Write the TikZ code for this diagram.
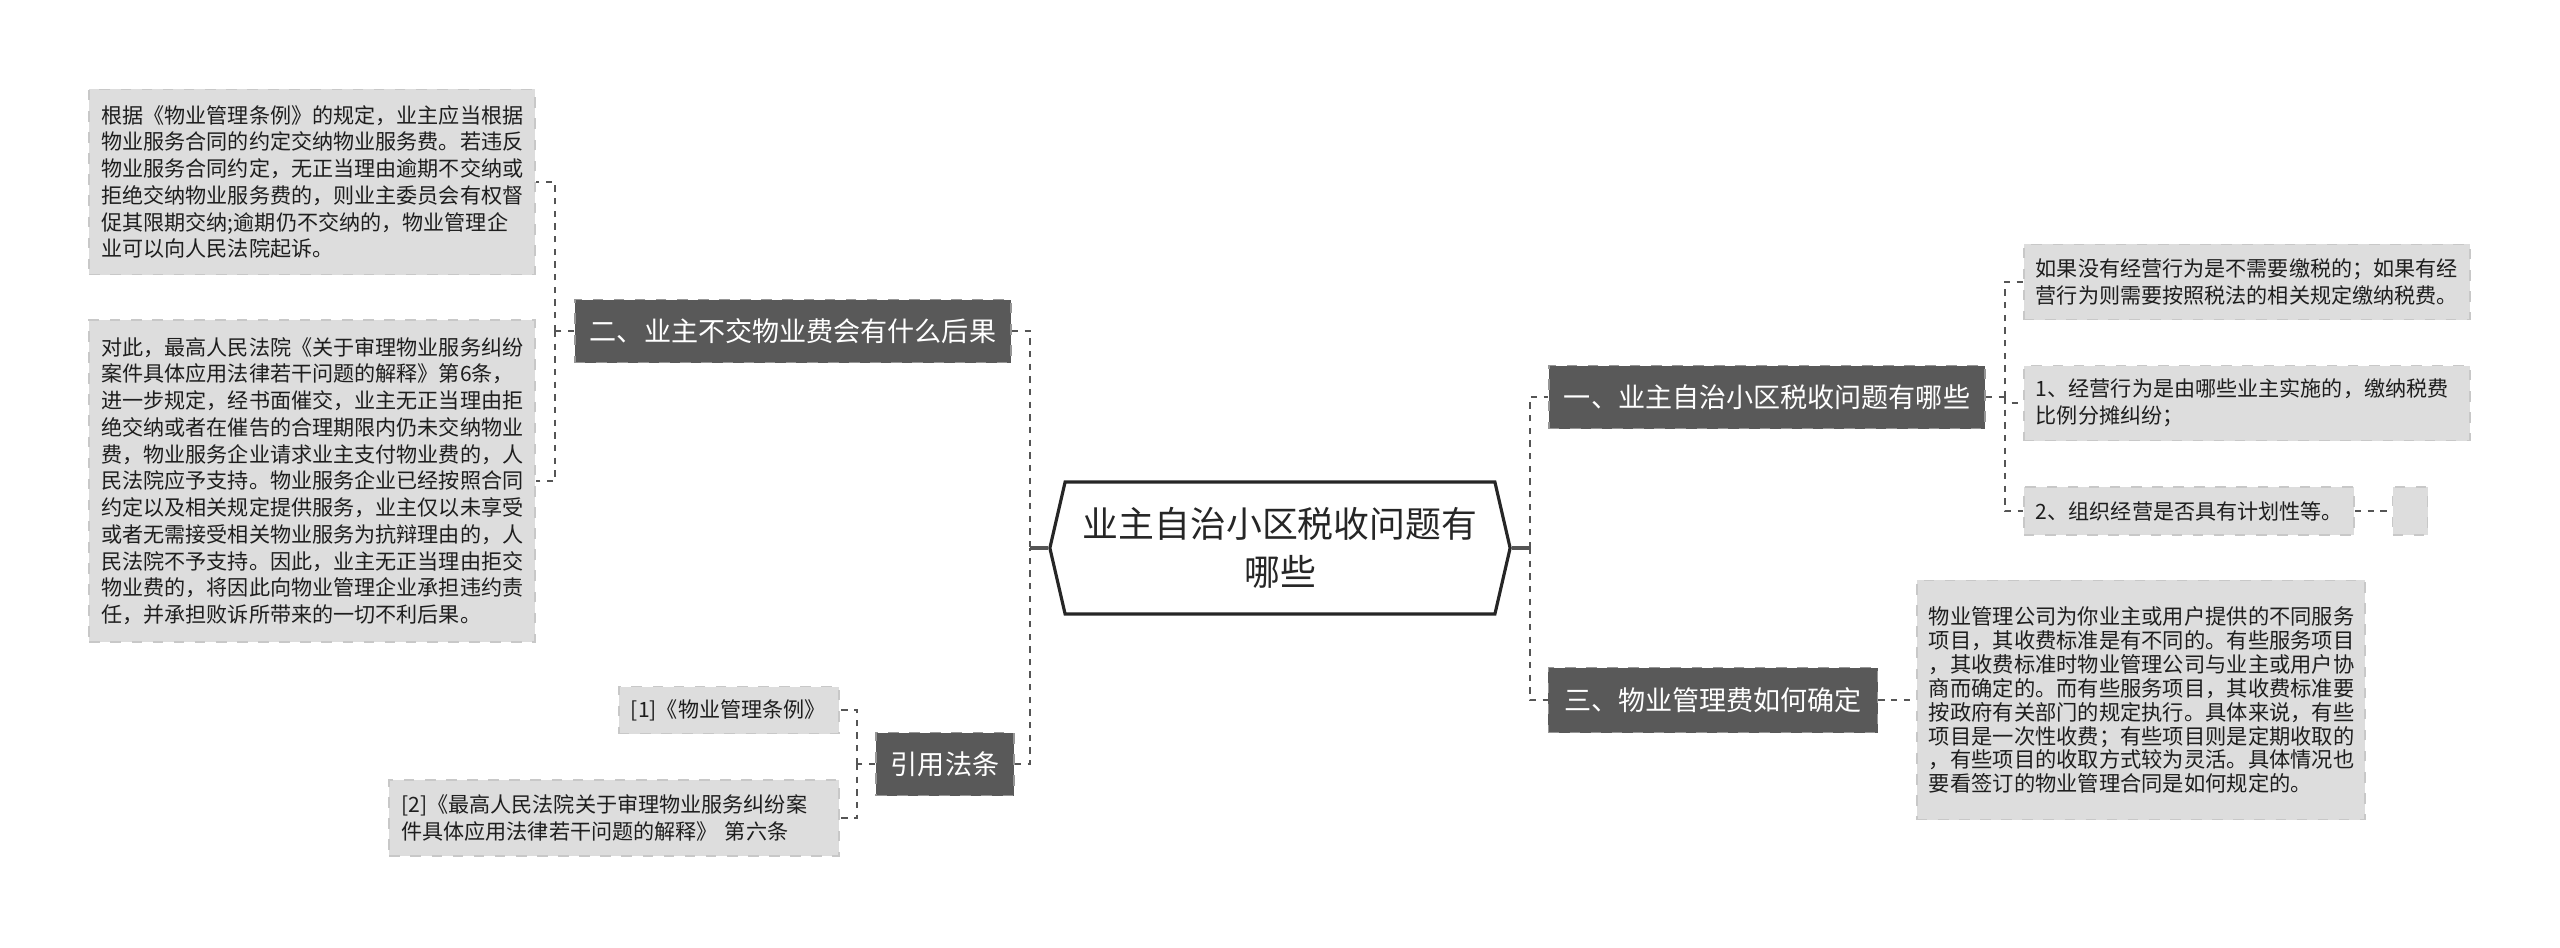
\documentclass[tikz,border=0pt]{standalone}
\usepackage{fontspec}
\setmainfont{Noto Sans CJK SC}
\usepackage{tikz}
\usetikzlibrary{shapes.symbols}
\usepackage{xcolor}
\definecolor{branchgray}{RGB}{89,89,89}
\definecolor{branchedge}{RGB}{150,150,150}
\definecolor{leafgray}{RGB}{221,221,221}
\definecolor{leafedge}{RGB}{200,200,200}
\definecolor{linkgray}{RGB}{85,85,85}
\definecolor{textgray}{RGB}{30,30,30}

\begin{document}
\begin{tikzpicture}[x=0.01cm,y=-0.01cm,
    branch/.style={fill=branchgray,draw=branchedge,dashed,line width=0.5pt,text=white,
      font=\fontsize{7.7}{9}\selectfont,inner sep=0pt,minimum height=0.63cm},
    leaf/.style={fill=leafgray,draw=leafedge,dashed,line width=0.5pt,text=textgray,
      font=\fontsize{6}{7.6}\selectfont,inner xsep=0.12cm,inner ysep=0pt,align=left},
    link/.style={draw=linkgray,line width=0.6pt,dash pattern=on 1.8pt off 1.8pt},
    stem/.style={draw=linkgray,line width=0.9pt}]
  \useasboundingbox (0,0) rectangle (2560,947);

  % centre
  \node[signal,signal to=west and east,signal pointer angle=154,draw=black!85,line width=0.9pt,
    fill=white,minimum width=4.6cm,minimum height=1.32cm,inner sep=0pt,align=center,
    font=\fontsize{10.2}{13.7}\selectfont,text=black!85] (root) at (1280,548)
    {业主自治小区税收问题有\\哪些};

  % branches
  \node[branch,minimum width=4.36cm] (b1) at (1767,397) {一、业主自治小区税收问题有哪些};
  \node[branch,minimum width=4.36cm] (b2) at (793,331) {二、业主不交物业费会有什么后果};
  \node[branch,minimum width=3.29cm,minimum height=0.65cm] (b3) at (1713,700) {三、物业管理费如何确定};
  \node[branch,minimum width=1.38cm] (b4) at (945,764) {引用法条};

  % left leaves
  \node[leaf,text width=4.21cm,minimum height=1.85cm] (l1) at (312,182) {%
    根据《物业管理条例》的规定，业主应当根据\\
    物业服务合同的约定交纳物业服务费。若违反\\
    物业服务合同约定，无正当理由逾期不交纳或\\
    拒绝交纳物业服务费的，则业主委员会有权督\\
    促其限期交纳;逾期仍不交纳的，物业管理企\\
    业可以向人民法院起诉。};
  \node[leaf,text width=4.21cm,minimum height=3.22cm] (l2) at (312,481) {%
    对此，最高人民法院《关于审理物业服务纠纷\\
    案件具体应用法律若干问题的解释》第6条，\\
    进一步规定，经书面催交，业主无正当理由拒\\
    绝交纳或者在催告的合理期限内仍未交纳物业\\
    费，物业服务企业请求业主支付物业费的，人\\
    民法院应予支持。物业服务企业已经按照合同\\
    约定以及相关规定提供服务，业主仅以未享受\\
    或者无需接受相关物业服务为抗辩理由的，人\\
    民法院不予支持。因此，业主无正当理由拒交\\
    物业费的，将因此向物业管理企业承担违约责\\
    任，并承担败诉所带来的一切不利后果。};

  % citations
  \node[leaf,text width=1.96cm,minimum height=0.47cm] (c1) at (729,710) {[1]《物业管理条例》};
  \node[leaf,text width=4.25cm,minimum height=0.76cm] (c2) at (614,818) {%
    [2]《最高人民法院关于审理物业服务纠纷案\\
    件具体应用法律若干问题的解释》 第六条};

  % right leaves
  \node[leaf,text width=4.22cm,minimum height=0.75cm] (t1) at (2247,282) {%
    如果没有经营行为是不需要缴税的；如果有经\\
    营行为则需要按照税法的相关规定缴纳税费。};
  \node[leaf,text width=4.22cm,minimum height=0.75cm] (t2) at (2247,403) {%
    1、经营行为是由哪些业主实施的，缴纳税费\\
    比例分摊纠纷；};
  \node[leaf,text width=3.06cm,minimum height=0.48cm] (t3) at (2189,511) {2、组织经营是否具有计划性等。};
  \node[leaf,minimum width=0.35cm,minimum height=0.48cm,inner sep=0pt] (t3x) at (2410,511) {};
  \node[leaf,text width=4.24cm,minimum height=2.39cm,font=\fontsize{6.05}{6.8}\selectfont] (fee) at (2141,700) {%
    物业管理公司为你业主或用户提供的不同服务\\
    项目，其收费标准是有不同的。有些服务项目\\
    ，其收费标准时物业管理公司与业主或用户协\\
    商而确定的。而有些服务项目，其收费标准要\\
    按政府有关部门的规定执行。具体来说，有些\\
    项目是一次性收费；有些项目则是定期收取的\\
    ，有些项目的收取方式较为灵活。具体情况也\\
    要看签订的物业管理合同是如何规定的。};

  % connectors
  \coordinate (lspine) at (1030,548);
  \coordinate (rspine) at (1530,548);
  \coordinate (b2spine) at (555,331);
  \coordinate (b4spine) at (857,764);
  \coordinate (b1spine) at (2005,397);
  \draw[stem] (root.west) -- (lspine);
  \draw[stem] (root.east) -- (rspine);
  \draw[link] (b2.east) -| (lspine);
  \draw[link] (b4.east) -| (lspine);
  \draw[link] (rspine) |- (b1.west);
  \draw[link] (rspine) |- (b3.west);
  \draw[link] (b2.west) -- (b2spine);
  \draw[link] (b2spine) |- (l1.east);
  \draw[link] (b2spine) |- (l2.east);
  \draw[link] (b4.west) -- (b4spine);
  \draw[link] (b4spine) |- (c1.east);
  \draw[link] (b4spine) |- (c2.east);
  \draw[link] (b1.east) -- (b1spine);
  \draw[link] (b1spine) |- (t1.west);
  \draw[link] (b1spine) |- (t2.west);
  \draw[link] (b1spine) |- (t3.west);
  \draw[link] (t3.east) -- (t3x.west);
  \draw[link] (b3.east) -- (fee.west);
\end{tikzpicture}
\end{document}
